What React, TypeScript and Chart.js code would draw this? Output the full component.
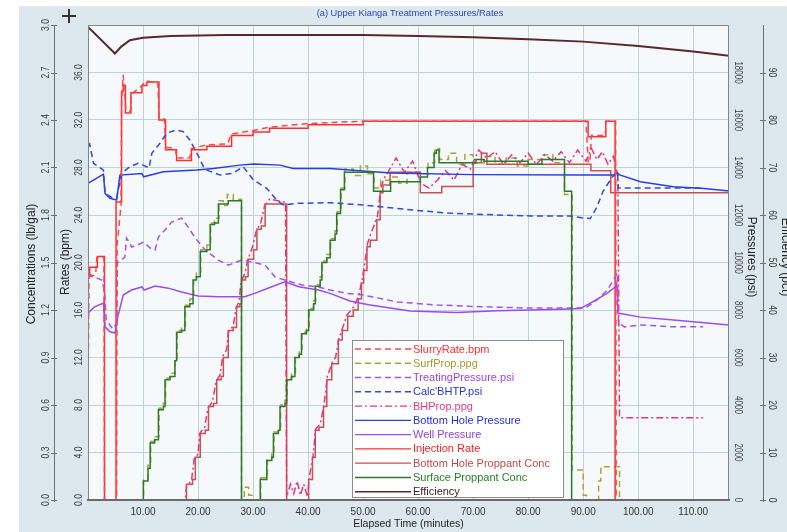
import React, { useEffect, useRef } from 'react';
import { Chart, registerables } from 'chart.js';

Chart.register(...registerables);

type P = [number, number][];

// ---------- series data: [elapsed minutes, value] ----------
const slurryRate: P = [
  [0, 8.5], [0.2, 19.2], [0.5, 18.8], [1.4, 19.0], [1.6, 20.4], [2.9, 20.4], [3.0, 0], [5.2, 0], [5.3, 21.5], [6.0, 24.8],
  [6.1, 33.6], [6.4, 35.8], [6.9, 32.8], [7.7, 32.7], [7.9, 34.2], [9.6, 34.8], [10.6, 35.3], [12.7, 35.1], [12.9, 32.2], [13.9, 32.1],
  [14.1, 29.7], [15.9, 29.6], [16.1, 28.8], [18.5, 28.8], [18.8, 29.6], [21.5, 29.9], [25.4, 30.0], [26.0, 30.8], [29.8, 31.1], [33.0, 31.4],
  [40.0, 31.7], [50.0, 31.9], [90.5, 31.9], [90.9, 28.5], [91.2, 28.4], [91.5, 30.7], [94.0, 30.7], [94.2, 31.9], [95.9, 31.9], [96.0, 0],
  [116.5, 0],
];

const surfProp: P = [
  [0, 0], [10.1, 0.13], [10.9, 0.22], [11.4, 0.37], [12.1, 0.4], [12.9, 0.58], [13.7, 0.61], [14.1, 0.77], [14.9, 0.8], [15.8, 0.89],
  [16.2, 1.07], [17.0, 1.1], [17.7, 1.23], [18.5, 1.27], [19.2, 1.4], [19.7, 1.44], [20.5, 1.58], [21.6, 1.61], [22.3, 1.75], [23.0, 1.78],
  [23.8, 1.89], [24.6, 1.86], [25.3, 1.93], [26.4, 1.9], [27.9, 0], [28.4, 0.08], [29.2, 0.03], [30.0, 0], [31.4, 0.14], [32.6, 0.26],
  [33.4, 0.29], [33.8, 0.43], [34.6, 0.46], [35.0, 0.6], [35.8, 0.63], [36.2, 0.77], [37.0, 0.8], [37.7, 0.91], [38.4, 0.94], [38.9, 1.06],
  [39.7, 1.09], [40.2, 1.21], [41.0, 1.26], [41.4, 1.36], [42.2, 1.41], [42.6, 1.51], [43.4, 1.55], [44.1, 1.65], [44.9, 1.7], [45.3, 1.82],
  [46.0, 1.97], [46.7, 2.09], [48.2, 2.05], [49.5, 2.11], [50.8, 2.06], [52.0, 1.97], [53.2, 2.02], [55.1, 2.04], [56.5, 2.0], [58.0, 2.07],
  [60.5, 2.06], [61.8, 2.13], [63.0, 2.22], [63.9, 2.15], [65.5, 2.19], [67.0, 2.12], [68.5, 2.18], [70.0, 2.13], [72.0, 2.17], [74.0, 2.12],
  [76.0, 2.16], [78.0, 2.11], [80.0, 2.15], [82.5, 2.18], [84.5, 2.13], [86.6, 1.93], [88.0, 0.19], [90.0, 0.03], [90.6, 0], [92.8, 0.12],
  [93.2, 0.21], [96.6, 0], [116.5, 0],
];

const treatingPressure: P = [
  [0, 9560], [1.2, 9390], [2.5, 9260], [3.0, 8800], [3.3, 7600], [4.5, 7200], [5.2, 7450], [5.35, 9980], [6.7, 10230], [7.0, 11030],
  [7.6, 10820], [7.9, 10650], [9.1, 10750], [10.1, 10860], [11.3, 10610], [12.2, 10530], [12.8, 11070], [14.0, 11370], [15.2, 11700], [17.0, 11870],
  [18.2, 11490], [19.5, 11030], [21.3, 10530], [23.7, 10100], [25.5, 9890], [27.9, 10100], [29.8, 10020], [32.2, 9890], [34.0, 9390], [35.8, 9260],
  [38.9, 9050], [41.9, 8970], [44.0, 8840], [47.0, 8700], [50.0, 8630], [56.2, 8340], [63.5, 8210], [71.3, 8140], [80.4, 8080], [87.6, 8080],
  [90.5, 8100], [92.5, 8420], [94.4, 8840], [95.8, 9390], [96.2, 9560], [96.4, 7450], [97.5, 7290], [100.4, 7370], [106.4, 7290], [111.8, 7290],
];

const calcBHTP: P = [
  [0, 14880], [0.3, 14980], [1.0, 14180], [2.8, 13890], [3.1, 12920], [4.0, 12780], [4.6, 12700], [5.2, 12700], [5.5, 13050], [6.1, 13760],
  [7.6, 14030], [9.1, 14180], [10.0, 14100], [11.1, 13980], [11.6, 14600], [13.1, 15030], [14.3, 15450], [16.1, 15580], [17.3, 15510], [18.5, 15160],
  [19.8, 14600], [21.0, 14030], [21.6, 13890], [24.0, 13680], [26.4, 13760], [28.2, 14030], [30.1, 13470], [32.5, 13120], [34.3, 12630], [35.5, 12420],
  [37.9, 12490], [44.0, 12520], [50.0, 12420], [59.0, 12210], [65.3, 12080], [74.4, 12000], [80.4, 11960], [87.6, 11960], [90.0, 11870], [91.3, 11850],
  [92.5, 12330], [93.6, 13000], [95.3, 13600], [96.2, 13810], [96.4, 13140], [111.8, 13140],
];

const bhProp: P = [
  [0, 0], [17.7, 0], [17.9, 0.09], [18.8, 0.12], [19.3, 0.26], [20.0, 0.29], [20.3, 0.42], [21.2, 0.46], [21.8, 0.58], [22.6, 0.62],
  [23.3, 0.75], [24.0, 0.79], [24.5, 0.91], [25.2, 0.95], [25.5, 1.06], [26.4, 1.1], [26.9, 1.21], [27.5, 1.26], [27.8, 1.38], [28.5, 1.43],
  [29.0, 1.51], [29.9, 1.6], [30.6, 1.7], [31.4, 1.75], [32.1, 1.86], [33.0, 1.9], [35.9, 1.88], [36.1, 0.02], [36.8, 0.1], [37.4, 0.04],
  [38.0, 0.12], [38.6, 0.03], [39.2, 0.1], [39.9, 0.02], [40.2, 0.14], [40.9, 0.28], [41.4, 0.45], [42.2, 0.48], [42.9, 0.6], [43.5, 0.78],
  [44.4, 0.87], [45.0, 0.9], [45.6, 1.02], [46.3, 1.09], [47.1, 1.17], [48.3, 1.22], [49.2, 1.29], [49.8, 1.39], [50.2, 1.47], [50.8, 1.62],
  [51.4, 1.68], [52.6, 1.79], [53.2, 1.97], [53.8, 2.03], [55.0, 2.1], [56.0, 2.16], [57.5, 2.07], [59.0, 2.14], [60.5, 2.0], [62.0, 1.97],
  [63.5, 2.02], [65.0, 2.08], [66.5, 2.02], [68.0, 2.12], [69.5, 2.09], [71.0, 2.21], [72.5, 2.16], [74.0, 2.2], [75.5, 2.12], [77.0, 2.18],
  [78.5, 2.13], [80.0, 2.19], [81.5, 2.12], [83.0, 2.18], [84.5, 2.14], [86.0, 2.2], [87.5, 2.13], [89.0, 2.21], [90.5, 2.14], [91.5, 2.22],
  [92.5, 2.15], [93.5, 2.2], [94.5, 2.12], [95.5, 2.17], [96.3, 2.05], [96.6, 0.52], [111.8, 0.52],
];

const bottomHolePressure: P = [
  [0, 13330], [2.8, 13720], [3.1, 12910], [4.0, 12700], [5.2, 12630], [5.8, 13680], [9.8, 13750], [10.1, 13610], [13.7, 13820], [19.8, 13890],
  [22.8, 13960], [27.6, 14100], [30.1, 14150], [34.9, 14100], [37.3, 13960], [44.0, 13960], [50.0, 13850], [55.0, 13770], [70.0, 13700], [90.0, 13680],
  [95.5, 13680], [96.2, 13770], [96.5, 13700], [100.4, 13400], [106.4, 13190], [112.0, 13120], [116.5, 13010],
];

const wellPressure: P = [
  [0, 7870], [1.2, 8130], [2.8, 8290], [3.1, 7290], [4.0, 7080], [4.9, 7030], [5.2, 7400], [5.4, 7700], [6.4, 8630], [7.9, 8840],
  [9.8, 8970], [10.2, 8840], [12.2, 9010], [14.6, 8920], [17.0, 8760], [20.0, 8590], [23.7, 8560], [28.5, 8560], [30.4, 8710], [33.4, 8980],
  [35.8, 9190], [38.3, 8980], [41.9, 8840], [44.0, 8700], [47.6, 8380], [51.0, 8220], [54.9, 8080], [58.5, 7960], [67.0, 7890], [74.4, 7970],
  [80.4, 8000], [87.6, 8040], [89.5, 8060], [91.3, 8290], [94.4, 8710], [95.8, 8970], [96.1, 9100], [96.3, 7870], [100.4, 7700], [106.4, 7580],
  [112.5, 7450], [116.5, 7370],
];

const injectionRate: P = [
  [0, 19.0], [0.3, 19.6], [1.7, 20.5], [3.0, 0], [5.1, 25.1], [6.1, 34.4], [6.4, 34.9], [6.8, 32.6], [7.8, 34.3], [9.8, 34.9],
  [10.7, 35.2], [12.9, 32.0], [14.1, 29.5], [16.1, 28.6], [18.8, 29.5], [21.6, 29.8], [26.1, 30.7], [30.0, 31.0], [33.0, 31.3], [40.0, 31.6],
  [50.0, 31.9], [90.9, 30.6], [94.1, 31.9], [95.8, 0], [116.5, 0],
];

const bhProppantConc: P = [
  [0, 0], [17.9, 0.1], [19.0, 0.13], [19.5, 0.27], [20.4, 0.42], [21.3, 0.44], [21.9, 0.59], [22.8, 0.61], [23.4, 0.76], [24.2, 0.78],
  [24.6, 0.9], [25.5, 1.07], [26.4, 1.09], [27.0, 1.22], [27.6, 1.24], [27.9, 1.39], [28.6, 1.41], [29.1, 1.52], [30.1, 1.58], [30.7, 1.71],
  [31.5, 1.73], [32.2, 1.87], [36.1, 0], [40.1, 0.13], [40.8, 0.27], [41.3, 0.44], [42.0, 0.46], [42.8, 0.59], [43.4, 0.76], [44.3, 0.86],
  [45.5, 1.01], [46.2, 1.07], [47.2, 1.16], [48.2, 1.2], [49.1, 1.27], [49.7, 1.37], [50.1, 1.45], [50.7, 1.6], [51.3, 1.64], [52.5, 1.77],
  [53.1, 1.94], [53.6, 1.99], [54.9, 2.07], [60.4, 1.94], [64.3, 1.98], [70.0, 2.13], [71.5, 2.19], [72.5, 2.12], [91.4, 2.08], [95.0, 1.94],
  [116.5, 1.94],
];

const surfaceProppantConc: P = [
  [0, 0], [10.06, 0.12], [10.9, 0.2], [11.3, 0.36], [12.1, 0.38], [12.8, 0.57], [13.7, 0.59], [14.0, 0.76], [14.9, 0.78], [15.8, 0.88],
  [16.1, 1.06], [17.0, 1.07], [17.6, 1.22], [18.5, 1.24], [19.1, 1.39], [19.7, 1.41], [20.4, 1.57], [21.6, 1.58], [22.2, 1.74], [23.0, 1.75],
  [23.7, 1.87], [25.5, 1.89], [27.9, 0], [31.3, 0.13], [32.5, 0.25], [33.4, 0.27], [33.7, 0.42], [34.6, 0.44], [34.9, 0.59], [35.8, 0.61],
  [36.1, 0.76], [37.0, 0.78], [37.6, 0.9], [38.4, 0.92], [38.8, 1.05], [39.7, 1.07], [40.1, 1.2], [41.0, 1.24], [41.3, 1.35], [42.2, 1.39],
  [42.5, 1.5], [43.4, 1.53], [44.0, 1.64], [44.9, 1.68], [45.2, 1.81], [45.9, 1.96], [46.6, 2.07], [51.9, 1.95], [55.0, 2.01], [60.4, 2.04],
  [61.7, 2.1], [62.9, 2.19], [63.3, 2.21], [63.8, 2.13], [70.5, 2.15], [72.0, 2.14], [80.0, 2.12], [82.5, 2.15], [86.6, 1.95], [87.9, 0],
  [116.5, 0],
];

const efficiency: P = [
  [0, 99.6], [4.9, 94.0], [6.0, 95.4], [7.6, 96.8], [10, 97.3], [15, 97.7], [25, 97.9], [50, 97.9], [60, 97.7], [70, 97.4],
  [80, 97.0], [90, 96.5], [100, 95.6], [110, 94.4], [116.5, 93.5],
];

// ---------- tick values / labels ----------
const concTicks = [0, 0.3, 0.6, 0.9, 1.2, 1.5, 1.8, 2.1, 2.4, 2.7, 3.0];
const concTickLabels = ['0.0', '0.3', '0.6', '0.9', '1.2', '1.5', '1.8', '2.1', '2.4', '2.7', '3.0'];
const rateTicks = [0, 4, 8, 12, 16, 20, 24, 28, 32, 36];
const rateTickLabels = ['0.0', '4.0', '8.0', '12.0', '16.0', '20.0', '24.0', '28.0', '32.0', '36.0'];
const pressureTicks = [0, 2000, 4000, 6000, 8000, 10000, 12000, 14000, 16000, 18000];
const pressureTickLabels = ['0', '2000', '4000', '6000', '8000', '10000', '12000', '14000', '16000', '18000'];
const effTicks = [0, 10, 20, 30, 40, 50, 60, 70, 80, 90];
const effTickLabels = ['0', '10', '20', '30', '40', '50', '60', '70', '80', '90'];

const FONT = '"Liberation Sans", Arial, sans-serif';
const GRID = '#bfd2d9';
const PANEL = '#dde8ee';
const PLOT = '#f5f9fb';

type S = {
  label: string; data: P; axis: string; color: string; text: string;
  dash: number[]; stepped: boolean; order: number; width?: number;
};

const series: S[] = [
  { label: 'SlurryRate.bpm', data: slurryRate, axis: 'yR', color: '#ff4545', text: '#ff3030', dash: [6, 4], stepped: false, order: 2 },
  { label: 'SurfProp.ppg', data: surfProp, axis: 'yC', color: '#a9a235', text: '#a09a2c', dash: [6, 4], stepped: true, order: 9 },
  { label: 'TreatingPressure.psi', data: treatingPressure, axis: 'yP', color: '#a451f2', text: '#a040f0', dash: [6, 4], stepped: false, order: 3 },
  { label: "Calc'BHTP.psi", data: calcBHTP, axis: 'yP', color: '#2c4ae0', text: '#2436d6', dash: [6, 4], stepped: false, order: 3 },
  { label: 'BHProp.ppg', data: bhProp, axis: 'yC', color: '#e8347e', text: '#e83a80', dash: [7, 3, 2, 3], stepped: false, order: 5 },
  { label: 'Bottom Hole Pressure', data: bottomHolePressure, axis: 'yP', color: '#2a3ce6', text: '#2030e0', dash: [], stepped: false, order: 4 },
  { label: 'Well Pressure', data: wellPressure, axis: 'yP', color: '#9a4cf2', text: '#9040e8', dash: [], stepped: false, order: 4 },
  { label: 'Injection Rate', data: injectionRate, axis: 'yR', color: '#ff2e2e', text: '#ff2020', dash: [], stepped: true, order: 4 },
  { label: 'Bottom Hole Proppant Conc', data: bhProppantConc, axis: 'yC', color: '#c9504c', text: '#c24a48', dash: [], stepped: true, order: 6 },
  { label: 'Surface Proppant Conc', data: surfaceProppantConc, axis: 'yC', color: '#2b7a2b', text: '#2a802a', dash: [], stepped: true, order: 1 },
  { label: 'Efficiency', data: efficiency, axis: 'yE', color: '#5a2828', text: '#402020', dash: [], stepped: false, order: 1, width: 2 },
];

function rotText(ctx: CanvasRenderingContext2D, text: string, x: number, y: number, angle: number, size: number, color: string, sx = 1) {
  ctx.save();
  ctx.translate(x, y);
  ctx.rotate(angle);
  ctx.scale(sx, 1);
  ctx.font = `${size}px ${FONT}`;
  ctx.fillStyle = color;
  ctx.textAlign = 'center';
  ctx.textBaseline = 'middle';
  ctx.fillText(text, 0, 0);
  ctx.restore();
}

const decor = {
  id: 'decor',
  beforeDraw(chart: any) {
    const { ctx, chartArea: a } = chart;
    ctx.save();
    ctx.fillStyle = '#ffffff';
    ctx.fillRect(0, 0, chart.width, chart.height);
    ctx.fillStyle = PANEL;
    ctx.fillRect(19, 6, chart.width - 19, chart.height - 6);
    ctx.fillStyle = PLOT;
    ctx.fillRect(a.left, a.top, a.right - a.left, a.bottom - a.top);
    ctx.restore();
  },
  afterDatasetsDraw(chart: any) {
    const ctx: CanvasRenderingContext2D = chart.ctx;
    const lx = 352, ly = 340, lw = 211, lh = 157;
    ctx.save();
    ctx.fillStyle = '#ffffff';
    ctx.fillRect(lx, ly, lw, lh);
    ctx.strokeStyle = '#8c8c8c';
    ctx.lineWidth = 1;
    ctx.strokeRect(lx + 0.5, ly + 0.5, lw, lh);
    series.forEach((s, i) => {
      const y = 349 + i * 14.27;
      ctx.beginPath();
      ctx.setLineDash(s.dash);
      ctx.strokeStyle = s.color;
      ctx.lineWidth = 1.4;
      ctx.moveTo(355, y);
      ctx.lineTo(411, y);
      ctx.stroke();
      ctx.setLineDash([]);
      ctx.font = `11px ${FONT}`;
      ctx.fillStyle = s.text;
      ctx.textAlign = 'left';
      ctx.textBaseline = 'middle';
      ctx.fillText(s.label, 413, y + 0.5);
    });
    ctx.restore();
  },
  afterDraw(chart: any) {
    const ctx: CanvasRenderingContext2D = chart.ctx;
    const a = chart.chartArea;
    const sc = chart.scales;
    ctx.save();
    // plot frame
    ctx.strokeStyle = '#858585';
    ctx.lineWidth = 1;
    ctx.beginPath();
    ctx.moveTo(a.left + 0.5, a.bottom);
    ctx.lineTo(a.left + 0.5, a.top + 0.5);
    ctx.lineTo(a.right - 0.5, a.top + 0.5);
    ctx.lineTo(a.right - 0.5, a.bottom);
    ctx.stroke();
    ctx.strokeStyle = '#6a6a6a';
    ctx.lineWidth = 2;
    ctx.beginPath();
    ctx.moveTo(a.left, a.bottom);
    ctx.lineTo(a.right, a.bottom);
    ctx.stroke();

    // outer axes lines
    ctx.strokeStyle = '#6f6f6f';
    ctx.lineWidth = 1;
    ctx.beginPath();
    ctx.moveTo(54.5, a.top);
    ctx.lineTo(54.5, a.bottom + 2);
    ctx.moveTo(763.5, a.top);
    ctx.lineTo(763.5, a.bottom + 2);
    ctx.stroke();

    const tickColor = '#3c3c3c';
    concTicks.forEach((v, i) => {
      const y = sc.yC.getPixelForValue(v);
      ctx.beginPath();
      ctx.moveTo(51, Math.round(y) + 0.5);
      ctx.lineTo(57, Math.round(y) + 0.5);
      ctx.stroke();
      rotText(ctx, concTickLabels[i], 46, y, -Math.PI / 2, 10, tickColor, 0.85);
    });
    rateTicks.forEach((v, i) => {
      const y = sc.yR.getPixelForValue(v);
      rotText(ctx, rateTickLabels[i], 79, y, -Math.PI / 2, 10, tickColor, 0.85);
    });
    pressureTicks.forEach((v, i) => {
      const y = sc.yP.getPixelForValue(v);
      rotText(ctx, pressureTickLabels[i], 738, y, Math.PI / 2, 10, tickColor, 0.8);
    });
    effTicks.forEach((v, i) => {
      const y = sc.yE.getPixelForValue(v);
      ctx.beginPath();
      ctx.moveTo(760, Math.round(y) + 0.5);
      ctx.lineTo(766, Math.round(y) + 0.5);
      ctx.stroke();
      rotText(ctx, effTickLabels[i], 772, y, Math.PI / 2, 10, tickColor, 0.85);
    });

    // axis titles
    rotText(ctx, 'Concentrations (lb/gal)', 32, 264, -Math.PI / 2, 12, '#222', 1);
    rotText(ctx, 'Rates (bpm)', 66, 262, -Math.PI / 2, 12, '#222', 1);
    rotText(ctx, 'Pressures (psi)', 751, 257, Math.PI / 2, 12, '#222', 1);
    rotText(ctx, 'Efficiency (pct)', 785, 257, Math.PI / 2, 12, '#222', 1);

    // chart title
    ctx.font = `9.3px ${FONT}`;
    ctx.fillStyle = '#2d3fb8';
    ctx.textAlign = 'center';
    ctx.textBaseline = 'middle';
    ctx.fillText('(a) Upper Kianga Treatment Pressures/Rates', 410, 13);

    // plus mark
    ctx.strokeStyle = '#333';
    ctx.lineWidth = 2;
    ctx.beginPath();
    ctx.moveTo(62, 16);
    ctx.lineTo(76, 16);
    ctx.moveTo(69, 9);
    ctx.lineTo(69, 23);
    ctx.stroke();
    ctx.restore();
  },
};

export default function App() {
  const ref = useRef<HTMLCanvasElement | null>(null);
  useEffect(() => {
    if (!ref.current) return;
    const datasets = series.map((s) => ({
      label: s.label,
      data: s.data.map(([x, y]) => ({ x, y })),
      yAxisID: s.axis,
      xAxisID: 'x',
      borderColor: s.color,
      backgroundColor: s.color,
      borderWidth: s.width ?? 1.5,
      borderDash: s.dash,
      stepped: s.stepped,
      pointRadius: 0,
      fill: false,
      tension: 0,
      order: s.order,
    }));
    const chart = new Chart(ref.current, {
      type: 'line',
      data: { datasets },
      plugins: [decor],
      options: {
        responsive: false,
        animation: false,
        devicePixelRatio: 1,
        events: [],
        layout: { padding: { left: 88, right: 58, top: 25, bottom: 0 } },
        plugins: { legend: { display: false }, tooltip: { enabled: false }, title: { display: false } },
        scales: {
          x: {
            type: 'linear',
            position: 'bottom',
            min: 0,
            max: 116.5,
            afterFit: (s: any) => { s.height = 32; },
            grid: { color: GRID, drawTicks: false, lineWidth: 1 },
            border: { display: true, color: '#6a6a6a', width: 2 },
            ticks: {
              stepSize: 10,
              includeBounds: false,
              autoSkip: false,
              maxRotation: 0,
              minRotation: 0,
              padding: 6,
              color: '#333',
              font: { family: FONT, size: 10 },
              callback: (v: any) => {
                const n = Number(v);
                return n > 0 && Math.abs(n % 10) < 1e-6 ? n.toFixed(2) : '';
              },
            },
            title: {
              display: true,
              text: 'Elapsed Time (minutes)',
              color: '#222',
              font: { family: FONT, size: 10.5 },
              padding: { top: 0, bottom: 2 },
            },
          },
          yR: {
            type: 'linear',
            position: 'left',
            min: 0,
            max: 40,
            afterFit: (s: any) => { s.width = 0; },
            ticks: { display: false, stepSize: 4 },
            grid: { color: GRID, drawTicks: false, lineWidth: 1 },
            border: { display: true, color: '#858585', width: 1 },
          },
          yC: { type: 'linear', position: 'left', min: 0, max: 3, display: false },
          yP: { type: 'linear', position: 'right', min: 0, max: 20000, display: false },
          yE: { type: 'linear', position: 'right', min: 0, max: 100, display: false },
        },
      } as any,
    });
    return () => chart.destroy();
  }, []);
  return (
    <div style={{ position: 'fixed', left: 0, top: 0, width: 787, height: 532 }}>
      <canvas ref={ref} width={787} height={532} style={{ display: 'block', width: 787, height: 532 }} />
    </div>
  );
}
